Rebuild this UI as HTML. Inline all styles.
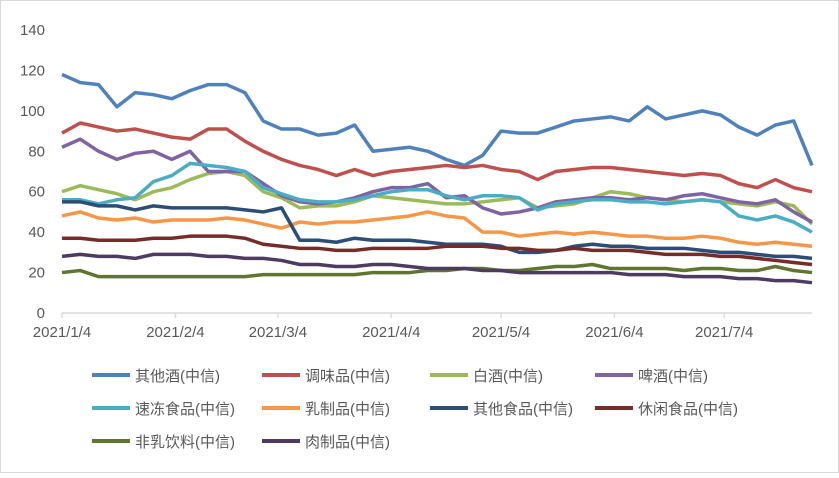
<!DOCTYPE html>
<html><head><meta charset="utf-8"><style>
body{margin:0;background:#fff}
svg text{font-family:"Liberation Sans","Noto Sans CJK SC",sans-serif;fill:#595959}
</style></head><body>
<svg id="c" width="839" height="473">
<rect x="0.5" y="0.5" width="838" height="472" fill="#fff" stroke="#d9d9d9"/>
<g id="axes"></g><g id="lines"></g><g id="legend"></g>
</svg>
<script>
const days=[0,5,10,15,20,25,30,35,40,45,50,55,60,65,70,75,80,85,90,95,100,105,110,115,120,125,130,135,140,145,150,155,160,165,170,175,180,185,190,195,200,205];
const seriesNames=["其他酒(中信)","调味品(中信)","白酒(中信)","啤酒(中信)","速冻食品(中信)","乳制品(中信)","其他食品(中信)","休闲食品(中信)","非乳饮料(中信)","肉制品(中信)"];
const s0=[118,114,113,102,109,108,106,110,113,113,109,95,91,91,88,89,93,80,81,82,80,76,73,78,90,89,89,92,95,96,97,95,102,96,98,100,98,92,88,93,95,73];
const s1=[89,94,92,90,91,89,87,86,91,91,85,80,76,73,71,68,71,68,70,71,72,73,72,73,71,70,66,70,71,72,72,71,70,69,68,69,68,64,62,66,62,60];
const s2=[60,63,61,59,56,60,62,66,69,70,68,60,57,52,53,53,55,58,57,56,55,54,54,55,56,57,52,53,54,57,60,59,57,56,55,56,55,54,53,55,53,44];
const s3=[82,86,80,76,79,80,76,80,70,70,70,64,58,55,54,55,57,60,62,62,64,57,58,52,49,50,52,55,56,57,57,56,57,56,58,59,57,55,54,56,50,45];
const s4=[56,56,54,56,57,65,68,74,73,72,70,62,59,56,55,55,56,58,60,61,61,58,56,58,58,57,51,54,55,56,56,55,55,54,55,56,55,48,46,48,45,40];
const s5=[48,50,47,46,47,45,46,46,46,47,46,44,42,45,44,45,45,46,47,48,50,48,47,40,40,38,39,40,39,40,39,38,38,37,37,38,37,35,34,35,34,33];
const s6=[55,55,53,53,51,53,52,52,52,52,51,50,52,36,36,35,37,36,36,36,35,34,34,34,33,30,30,31,33,34,33,33,32,32,32,31,30,30,29,28,28,27];
const s7=[37,37,36,36,36,37,37,38,38,38,37,34,33,32,32,31,31,32,32,32,32,33,33,33,32,32,31,31,32,31,31,31,30,29,29,29,28,28,27,26,25,24];
const s8=[20,21,18,18,18,18,18,18,18,18,18,19,19,19,19,19,19,20,20,20,21,21,22,22,21,21,22,23,23,24,22,22,22,22,21,22,22,21,21,23,21,20];
const s9=[28,29,28,28,27,29,29,29,28,28,27,27,26,24,24,23,23,24,24,23,22,22,22,21,21,20,20,20,20,20,20,19,19,19,18,18,18,17,17,16,16,15];
const yTicks=[0,20,40,60,80,100,120,140];
const xTickLabels=["2021/1/4","2021/2/4","2021/3/4","2021/4/4","2021/5/4","2021/6/4","2021/7/4"];
const xTickDays=[0,31,59,90,120,151,181];
const colors=["#4F81BD","#C0504D","#9BBB59","#8064A2","#4BACC6","#F79646","#2C4D75","#772C2A","#5F7530","#4D3B62"];
const all=[s0,s1,s2,s3,s4,s5,s6,s7,s8,s9];
const X=d=>62+d*(750/205), Y=v=>313-v*(283/140);
const NS="http://www.w3.org/2000/svg";
function mk(t,a,p){const e=document.createElementNS(NS,t);for(const k in a)e.setAttribute(k,a[k]);p.appendChild(e);return e;}
const ax=document.getElementById('axes');
yTicks.forEach(v=>{const t=mk('text',{x:45,y:Y(v)+5,'text-anchor':'end','font-size':15},ax);t.textContent=v;

});
const xl=mk('line',{x1:62,y1:313,x2:812,y2:313,stroke:'#d9d9d9','stroke-width':1.5},ax);


xTickDays.forEach((d,i)=>{mk('line',{x1:X(d),y1:313,x2:X(d),y2:318,stroke:'#d9d9d9','stroke-width':1.5},ax);
const t=mk('text',{x:X(d),y:337,'text-anchor':'middle','font-size':15},ax);t.textContent=xTickLabels[i];

});
const lg=document.getElementById('lines');
all.forEach((s,i)=>{const p=mk('polyline',{points:s.map((v,j)=>X(days[j])+','+Y(v)).join(' '),fill:'none',stroke:colors[i],'stroke-width':3.5,'stroke-linejoin':'round'},lg);

});
const leg=document.getElementById('legend');
const lx=[92,262,430,595],ly=[375,408,441];
seriesNames.forEach((n,i)=>{const r=Math.floor(i/4),c=i%4;const g=mk('g',{},leg);


mk('line',{x1:lx[c],y1:ly[r],x2:lx[c]+38,y2:ly[r],stroke:colors[i],'stroke-width':4},g);
const t=mk('text',{x:lx[c]+43,y:ly[r]+6,'font-size':15},g);t.textContent=n;});
</script>
</body></html>
